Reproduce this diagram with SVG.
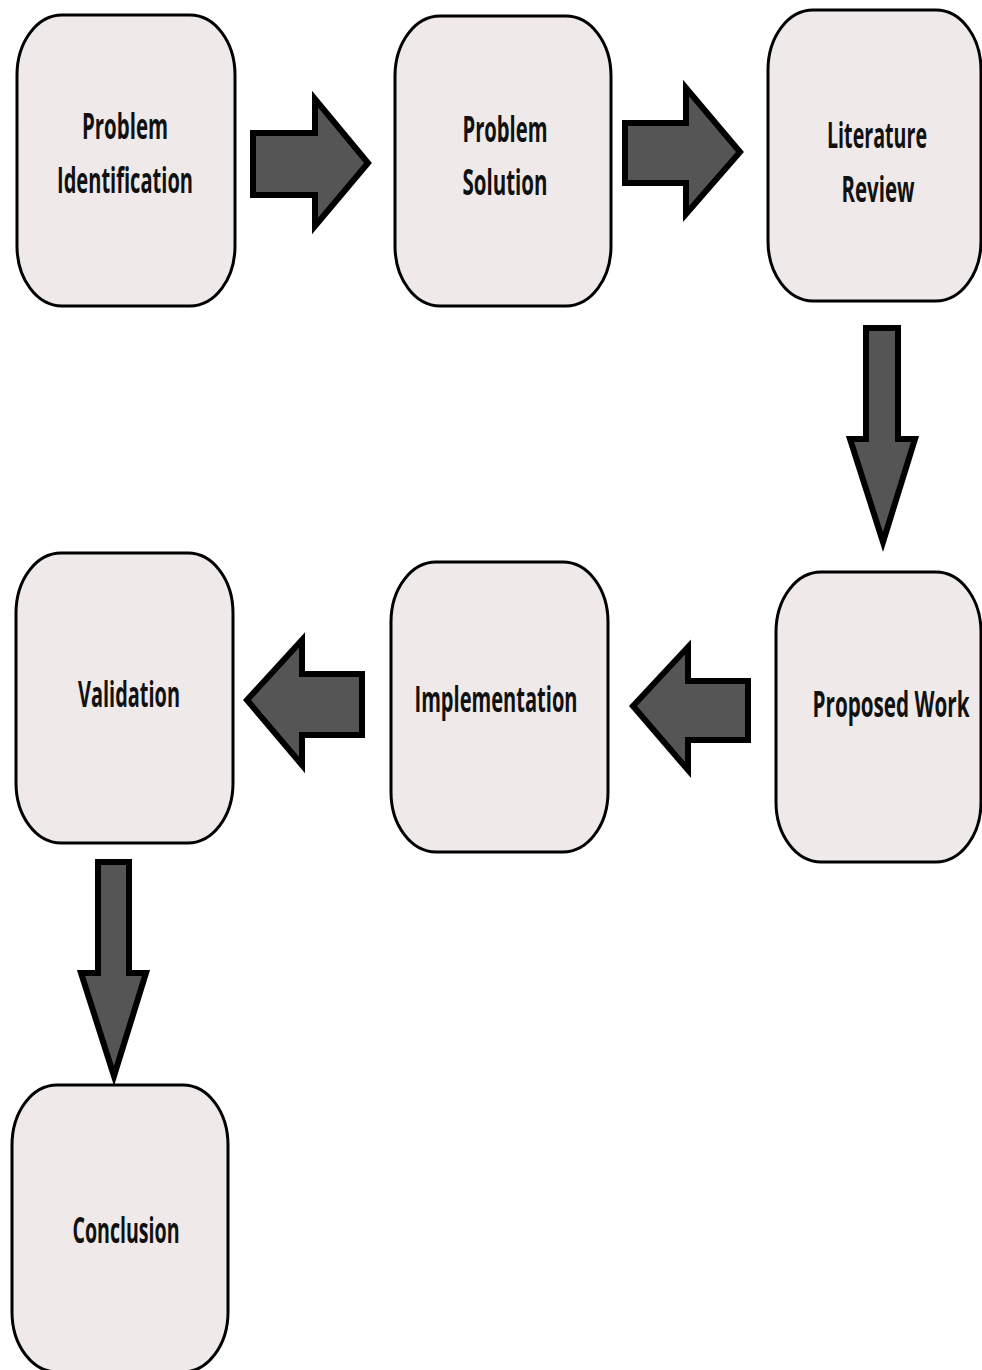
<svg xmlns="http://www.w3.org/2000/svg" width="982" height="1370" viewBox="0 0 982 1370">
  <style>
    .box { fill: #efe9e9; stroke: #000; stroke-width: 3; }
    .arrow { fill: #555; stroke: #000; stroke-width: 6; stroke-linejoin: miter; }
    .label { font-family: "Open Sans", "Liberation Sans", sans-serif; font-weight: 700; font-size: 21px; fill: #111; text-anchor: middle; }
  </style>
  <rect width="982" height="1370" fill="#fff"/>

  <!-- block arrows between the steps -->
  <g id="connectors">
    <polygon class="arrow" points="253,133 315,133 315,99 368,163 315,226 315,195 253,195"/>
    <polygon class="arrow" points="625,123 686,123 686,88 740,152 686,214 686,183 625,183"/>
    <polygon class="arrow" points="866,328 898,328 898,439 915,439 883,542 850,439 866,439"/>
    <polygon class="arrow" points="362,674 362,735 302,735 302,765 247,700 302,640 302,674"/>
    <polygon class="arrow" points="748,681 748,740 688,740 688,770 633,706 688,647 688,681"/>
    <polygon class="arrow" points="98,862 129,862 129,973 146,973 114,1076 81,973 98,973"/>
  </g>

  <!-- labels use a narrow glyph set stretched tall around their baselines -->
  <g id="problem-identification">
    <rect class="box" x="17" y="15" width="218" height="291" rx="45" ry="60"/>
    <text class="label" transform="translate(125,139) scale(1,1.7)" textLength="86" lengthAdjust="spacingAndGlyphs">Problem</text>
    <text class="label" transform="translate(125,193) scale(1,1.7)" textLength="136" lengthAdjust="spacingAndGlyphs">Identification</text>
  </g>

  <g id="problem-solution">
    <rect class="box" x="395" y="16" width="216" height="290" rx="45" ry="60"/>
    <text class="label" transform="translate(505,142) scale(1,1.7)" textLength="85" lengthAdjust="spacingAndGlyphs">Problem</text>
    <text class="label" transform="translate(505,195) scale(1,1.7)" textLength="85" lengthAdjust="spacingAndGlyphs">Solution</text>
  </g>

  <g id="literature-review">
    <rect class="box" x="768" y="10" width="213" height="291" rx="45" ry="60"/>
    <text class="label" transform="translate(877,148) scale(1,1.7)" textLength="100" lengthAdjust="spacingAndGlyphs">Literature</text>
    <text class="label" transform="translate(878,202) scale(1,1.7)" textLength="73" lengthAdjust="spacingAndGlyphs">Review</text>
  </g>

  <g id="proposed-work">
    <rect class="box" x="776" y="572" width="205" height="290" rx="45" ry="60"/>
    <text class="label" transform="translate(891,717) scale(1,1.7)" textLength="157" lengthAdjust="spacingAndGlyphs">Proposed Work</text>
  </g>

  <g id="implementation">
    <rect class="box" x="391" y="562" width="217" height="290" rx="45" ry="60"/>
    <text class="label" transform="translate(496,712) scale(1,1.7)" textLength="163" lengthAdjust="spacingAndGlyphs">Implementation</text>
  </g>

  <g id="validation">
    <rect class="box" x="16" y="553" width="217" height="290" rx="45" ry="60"/>
    <text class="label" transform="translate(129,707) scale(1,1.7)" textLength="102" lengthAdjust="spacingAndGlyphs">Validation</text>
  </g>

  <g id="conclusion">
    <rect class="box" x="12" y="1085" width="216" height="287" rx="45" ry="60"/>
    <text class="label" transform="translate(126,1243) scale(1,1.7)" textLength="107" lengthAdjust="spacingAndGlyphs">Conclusion</text>
  </g>
</svg>
